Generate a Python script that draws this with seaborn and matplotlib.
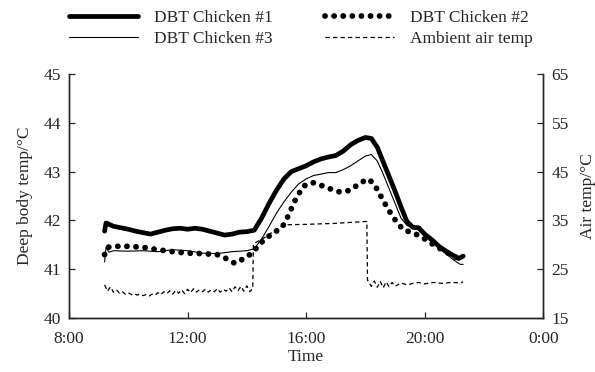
import numpy as np
import pandas as pd
import matplotlib
matplotlib.use("Agg")
import matplotlib.pyplot as plt
import seaborn as sns

# ----------------------------------------------------------------------------
# Data (hours of the day)
# ----------------------------------------------------------------------------
t_c1 = [9.20, 9.25, 9.5, 9.75, 10.0, 10.25, 10.5, 10.75, 11.0, 11.25, 11.5, 11.75,
        12.0, 12.25, 12.5, 12.75, 13.0, 13.25, 13.5, 13.75, 14.0, 14.25, 14.5, 14.75,
        15.0, 15.25, 15.5, 15.75, 16.0, 16.25, 16.5, 16.75, 17.0, 17.25, 17.5, 17.75,
        18.0, 18.2, 18.4, 18.6, 18.8, 19.0, 19.2, 19.4, 19.6, 19.8, 20.0, 20.25,
        20.5, 20.75, 21.0, 21.15, 21.3]
chicken1 = [41.78, 41.95, 41.88, 41.85, 41.82, 41.78, 41.75, 41.72, 41.76, 41.80, 41.83, 41.84,
            41.82, 41.84, 41.82, 41.78, 41.74, 41.70, 41.72, 41.76, 41.77, 41.80, 42.05, 42.35,
            42.62, 42.85, 43.00, 43.06, 43.12, 43.20, 43.26, 43.30, 43.33, 43.42, 43.55, 43.64,
            43.70, 43.68, 43.50, 43.20, 42.90, 42.60, 42.28, 41.98, 41.86, 41.85, 41.72, 41.60,
            41.46, 41.36, 41.27, 41.22, 41.27]

t_c2 = [9.2, 9.3, 9.6, 10.0, 10.5, 11.0, 11.5, 12.0, 12.5, 13.0, 13.3, 13.6, 13.9, 14.1,
        14.3, 14.6, 14.9, 15.2, 15.4, 15.6, 15.9, 16.2, 16.5, 16.8, 17.15, 17.5, 17.8, 18.1,
        18.3, 18.5, 18.7, 18.9, 19.1, 19.3, 19.6, 19.9, 20.2, 20.5, 20.8, 21.1, 21.3]
chicken2 = [41.30, 41.45, 41.47, 41.47, 41.45, 41.40, 41.36, 41.33, 41.32, 41.30, 41.22, 41.12,
            41.22, 41.30, 41.42, 41.62, 41.74, 41.87, 42.10, 42.38, 42.70, 42.78, 42.72, 42.65,
            42.58, 42.62, 42.76, 42.85, 42.74, 42.52, 42.30, 42.10, 41.93, 41.80, 41.75, 41.66,
            41.54, 41.43, 41.33, 41.23, 41.26]

t_c3 = [9.20, 9.25, 9.35, 9.5, 10.0, 10.5, 11.0, 11.5, 12.0, 12.5, 13.0, 13.5, 14.0, 14.25,
        14.5, 14.75, 15.0, 15.25, 15.5, 15.75, 16.0, 16.25, 16.5, 16.75, 17.0, 17.25, 17.5,
        17.75, 18.0, 18.2, 18.4, 18.6, 18.8, 19.0, 19.2, 19.4, 19.6, 19.8, 20.0, 20.25, 20.5,
        20.75, 21.0, 21.2, 21.3]
chicken3 = [41.15, 41.45, 41.35, 41.38, 41.37, 41.38, 41.36, 41.40, 41.38, 41.33, 41.32, 41.36,
            41.38, 41.42, 41.62, 41.88, 42.15, 42.38, 42.58, 42.75, 42.85, 42.92, 42.95, 42.98,
            42.98, 43.04, 43.12, 43.22, 43.32, 43.35, 43.22, 42.95, 42.65, 42.35, 42.05, 41.90,
            41.85, 41.80, 41.68, 41.55, 41.42, 41.30, 41.18, 41.10, 41.10]

t_air = [9.2, 9.3, 9.4, 9.5, 9.6, 9.7, 9.8, 9.9, 10.0, 10.1, 10.2, 10.3, 10.4, 10.5, 10.6,
         10.7, 10.8, 10.9, 11.0, 11.1, 11.2, 11.3, 11.4, 11.5, 11.6, 11.7, 11.8, 11.9, 12.0,
         12.1, 12.2, 12.3, 12.4, 12.5, 12.6, 12.7, 12.8, 12.9, 13.0, 13.1, 13.2, 13.3, 13.4,
         13.5, 13.6, 13.7, 13.8, 13.9, 14.0, 14.1, 14.2, 14.22, 14.6, 15.0, 15.25, 16.0, 16.5,
         17.0, 17.5, 18.05, 18.07, 18.2, 18.3, 18.4, 18.5, 18.6, 18.7, 18.8, 18.9, 19.0, 19.2,
         19.4, 19.6, 19.8, 20.0, 20.3, 20.6, 20.9, 21.2, 21.3]
air_temp = [21.8, 20.5, 21.4, 20.3, 20.8, 20.1, 20.4, 19.9, 20.2, 19.8, 20.0, 19.7, 19.9, 19.6, 19.8,
            19.5, 19.9, 19.7, 20.2, 19.8, 20.4, 20.0, 20.6, 19.9, 20.7, 20.1, 20.8, 20.0, 20.9,
            20.2, 21.0, 20.3, 20.8, 20.4, 20.9, 20.3, 20.8, 20.4, 21.0, 20.3, 20.9, 20.5, 21.2,
            20.4, 21.4, 20.6, 21.5, 20.5, 21.6, 20.4, 21.0, 30.2, 31.5, 33.2, 34.1, 34.2, 34.3,
            34.4, 34.6, 34.8, 22.8, 21.5, 22.6, 21.3, 22.5, 21.2, 22.4, 21.4, 22.3, 21.5, 22.2,
            21.8, 22.1, 22.3, 22.0, 22.3, 22.1, 22.3, 22.2, 22.4]

x_ticks = [8, 12, 16, 20, 24]
x_tick_labels = ["8:00", "12:00", "16:00", "20:00", "0:00"]

# ----------------------------------------------------------------------------
# Style
# ----------------------------------------------------------------------------
sns.set_style("ticks")
plt.rcParams["font.family"] = ["Liberation Serif", "DejaVu Serif"]
plt.rcParams["font.size"] = 12.5

fig = plt.figure(figsize=(5.95, 3.72), dpi=100)
ax = fig.add_axes([0.116, 0.145, 0.797, 0.656])
ax2 = ax.twinx()

df1 = pd.DataFrame({"t": t_c1, "v": chicken1})
df2 = pd.DataFrame({"t": t_c2, "v": chicken2})
df3 = pd.DataFrame({"t": t_c3, "v": chicken3})
dfa = pd.DataFrame({"t": t_air, "v": air_temp})

sns.lineplot(data=df1, x="t", y="v", ax=ax, color="black", linewidth=3.4,
             label="DBT Chicken #1", legend=False)
sns.lineplot(data=df2, x="t", y="v", ax=ax, color="black", linewidth=4.2,
             linestyle=(0, (0.01, 1.55)), dash_capstyle="round",
             label="DBT Chicken #2", legend=False)
sns.lineplot(data=df3, x="t", y="v", ax=ax, color="black", linewidth=0.8,
             label="DBT Chicken #3", legend=False)
sns.lineplot(data=dfa, x="t", y="v", ax=ax2, color="black", linewidth=0.9,
             linestyle=(0, (3.5, 2.5)), label="Ambient air temp", legend=False)

ax.set_xlim(8, 24)
ax.set_ylim(40, 45)
ax2.set_ylim(15, 65)
ax.set_xticks(x_ticks)
ax.set_xticklabels(x_tick_labels)
ax.set_yticks([40, 41, 42, 43, 44, 45])
ax2.set_yticks([15, 25, 35, 45, 55, 65])

ax.set_xlabel("Time", fontsize=12.5, labelpad=2)
ax.set_ylabel("Deep body temp/°C", fontsize=12.5, labelpad=7)
ax2.set_ylabel("Air temp/°C", fontsize=12.5, labelpad=8)

for a in (ax, ax2):
    a.spines["top"].set_visible(False)
    a.tick_params(direction="in", length=4, width=0.9, labelsize=12.5, pad=6)
    for s in a.spines.values():
        s.set_linewidth(1.0)
ax.tick_params(axis="x", pad=9)

lines1 = ax.get_lines()
lines2 = ax2.get_lines()
handles = [lines1[0], lines1[2], lines1[1], lines2[0]]
fig.legend(handles, [h.get_label() for h in handles],
           loc="upper center", bbox_to_anchor=(0.505, 1.015), ncol=2, frameon=False,
           handlelength=4.0, columnspacing=3.0, handletextpad=0.9, labelspacing=0.25,
           fontsize=12.5)

fig.savefig("out.png", dpi=100)
